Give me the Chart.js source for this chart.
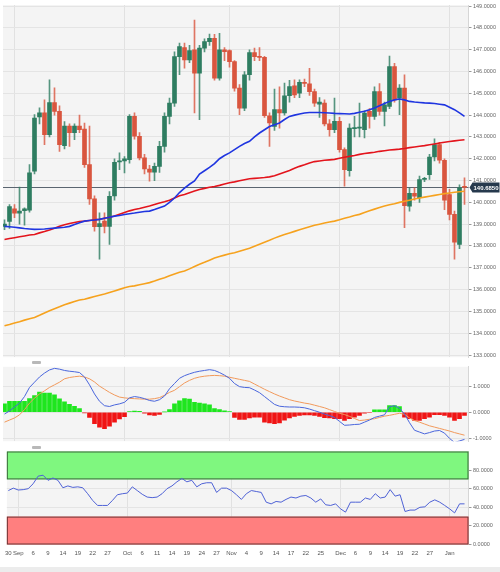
<!DOCTYPE html>
<html>
<head>
<meta charset="utf-8">
<title>EUR/JPY daily</title>
<script src="https://cdn.jsdelivr.net/npm/chart.js@4.4.1/dist/chart.umd.min.js"></script>
<style>
  html, body { margin: 0; padding: 0; background: #fff; }
  #wrap { position: relative; width: 500px; height: 572px; overflow: hidden; }
  .pane { position: absolute; left: 0; width: 500px; }
  .grip { position: absolute; left: 32px; width: 9px; height: 3px; background: #b8b8b8; border-radius: 1px; }
  #foot { position: absolute; left: 0; top: 567px; width: 500px; height: 5px; background: #ececec; }
</style>
</head>
<body>
<div id="wrap">
  <div class="pane" style="top:0;height:362px"><canvas id="priceChart"></canvas></div>
  <div class="grip" style="top:361px"></div>
  <div class="pane" style="top:362px;height:84px"><canvas id="macdChart"></canvas></div>
  <div class="grip" style="top:446px"></div>
  <div class="pane" style="top:446px;height:121px"><canvas id="rsiChart"></canvas></div>
  <div id="foot"></div>
</div>
<script>
// daily candles, Aug 30 2022 -> Jan 5 2023 (one per trading day)
const opens = [138.9, 139.13, 139.7, 139.5, 139.62, 139.64, 141.43, 143.92, 144.1, 143.1,
  144.58, 144.17, 142.6, 143.5, 143.2, 143.5, 143.36, 141.73, 140.16, 138.88,
  139.14, 138.9, 140.3, 141.85, 141.9, 141.96, 143.94, 143.03, 142.04, 141.53,
  141.38, 141.65, 142.57, 143.94, 144.55, 146.68, 147.1, 146.53, 147.0, 145.92,
  147.07, 147.37, 147.52, 145.7, 146.99, 146.96, 146.45, 145.24, 144.32, 145.85,
  146.87, 146.68, 146.65, 143.97, 143.48, 144.25, 144.1, 144.89, 145.34, 145.01,
  145.5, 145.43, 145.08, 144.5, 144.55, 143.6, 143.33, 143.71, 142.42, 141.45,
  143.38, 143.4, 143.33, 144.17, 143.94, 145.08, 144.17, 144.4, 146.23, 144.78,
  145.24, 139.83, 140.41, 140.21, 141.05, 141.27, 142.08, 142.65, 141.93, 140.36,
  139.45, 138.07, 140.7];
const highs = [139.2, 139.9, 139.9, 140.7, 139.75, 141.73, 144.02, 144.34, 144.7, 145.62,
  145.25, 144.43, 143.7, 143.6, 143.6, 144.0, 143.64, 143.5, 140.3, 139.52,
  139.52, 140.5, 142.0, 142.27, 142.1, 144.02, 144.1, 143.2, 142.2, 141.7,
  141.8, 142.8, 144.1, 144.78, 146.9, 147.3, 147.3, 147.2, 148.36, 147.2,
  147.5, 147.72, 147.7, 147.75, 147.1, 147.0, 146.5, 145.4, 146.0, 147.0,
  147.07, 147.1, 146.7, 144.1, 145.19, 145.3, 145.47, 145.6, 145.62, 145.62,
  145.65, 146.15, 145.2, 144.8, 144.7, 143.8, 144.78, 143.9, 142.5, 143.6,
  143.94, 144.55, 144.2, 144.3, 145.3, 145.45, 144.6, 146.71, 146.38, 145.4,
  145.85, 140.67, 140.67, 141.2, 141.15, 142.2, 142.91, 142.75, 142.0, 140.6,
  139.6, 140.8, 141.12];
const lows = [138.75, 138.8, 139.3, 139.0, 138.95, 139.55, 141.3, 143.6, 142.65, 143.0,
  144.0, 142.34, 142.45, 142.57, 142.87, 143.2, 141.6, 139.9, 138.68, 137.4,
  138.6, 138.07, 140.1, 141.5, 141.35, 141.8, 142.9, 141.95, 141.3, 140.97,
  141.0, 141.37, 142.3, 143.6, 144.4, 145.85, 146.15, 146.4, 144.1, 143.79,
  146.9, 147.2, 145.6, 145.6, 146.5, 146.2, 145.1, 144.02, 144.2, 145.6,
  146.5, 146.5, 143.9, 142.57, 143.3, 143.4, 144.0, 144.6, 144.8, 144.8,
  145.3, 144.9, 144.4, 143.9, 143.5, 143.03, 143.2, 142.3, 140.74, 141.2,
  143.0, 143.0, 142.95, 143.4, 143.8, 144.0, 143.5, 144.3, 144.6, 144.02,
  138.84, 139.6, 140.1, 140.0, 140.95, 141.05, 141.9, 141.8, 139.67, 139.2,
  137.39, 137.88, 139.9];
const closes = [139.0, 139.81, 139.5, 139.6, 139.7, 141.35, 143.87, 144.1, 143.1, 144.58,
  144.17, 142.65, 143.5, 143.2, 143.5, 143.33, 141.73, 140.16, 138.88, 139.03,
  138.9, 140.28, 141.84, 141.9, 142.0, 143.94, 143.03, 142.04, 141.53, 141.38,
  141.65, 142.57, 143.94, 144.55, 146.68, 147.14, 146.53, 146.96, 145.92, 147.07,
  147.37, 147.52, 145.7, 146.99, 146.91, 146.45, 145.24, 144.32, 145.85, 146.87,
  146.68, 146.65, 143.97, 143.64, 144.25, 144.1, 144.89, 145.31, 144.93, 145.5,
  145.45, 145.08, 144.55, 144.6, 143.6, 143.33, 143.71, 142.42, 141.5, 143.41,
  143.43, 143.45, 144.09, 143.94, 145.08, 144.17, 144.47, 146.23, 144.7, 145.24,
  139.85, 140.41, 140.28, 141.05, 141.1, 142.08, 142.65, 141.93, 140.1, 139.45,
  138.18, 140.67, 140.685];

// moving averages
const sma20 = [138.9, 138.88, 138.86, 138.83, 138.8, 138.78, 138.76, 138.77, 138.78, 138.8,
  138.82, 138.84, 138.86, 138.9, 138.98, 139.07, 139.14, 139.17, 139.19, 139.22,
  139.27, 139.32, 139.37, 139.4, 139.44, 139.48, 139.51, 139.55, 139.58, 139.6,
  139.67, 139.75, 139.83, 140.0, 140.2, 140.45, 140.65, 140.83, 140.98, 141.3,
  141.45, 141.6, 141.78, 142.0, 142.15, 142.27, 142.42, 142.57, 142.7, 142.8,
  143.0, 143.18, 143.33, 143.48, 143.56, 143.64, 143.8, 143.94, 144.0, 144.05,
  144.1, 144.12, 144.12, 144.12, 144.11, 144.1, 144.08, 144.07, 144.06, 144.05,
  144.08, 144.13, 144.18, 144.25, 144.33, 144.43, 144.53, 144.63, 144.7, 144.74,
  144.7, 144.63, 144.6, 144.58, 144.56, 144.55, 144.53, 144.5, 144.47, 144.36,
  144.25, 144.1, 143.94];
const sma100 = [138.3, 138.34, 138.38, 138.42, 138.46, 138.5, 138.53, 138.6, 138.66, 138.73,
  138.81, 138.9, 138.97, 139.03, 139.08, 139.12, 139.14, 139.17, 139.2, 139.22,
  139.27, 139.32, 139.37, 139.45, 139.53, 139.61, 139.67, 139.72, 139.78, 139.83,
  139.9, 139.97, 140.03, 140.1, 140.2, 140.3, 140.36, 140.44, 140.52, 140.59,
  140.64, 140.69, 140.73, 140.78, 140.84, 140.9, 140.94, 140.99, 141.04, 141.08,
  141.1, 141.12, 141.14, 141.17, 141.22, 141.3, 141.38, 141.46, 141.56, 141.65,
  141.72, 141.8, 141.87, 141.9, 141.93, 141.95, 141.97, 142.02, 142.07, 142.11,
  142.15, 142.2, 142.24, 142.27, 142.3, 142.34, 142.37, 142.4, 142.42, 142.44,
  142.47, 142.51, 142.54, 142.57, 142.6, 142.64, 142.68, 142.72, 142.76, 142.79,
  142.82, 142.85, 142.87];
const sma200 = [134.34, 134.4, 134.47, 134.53, 134.6, 134.66, 134.72, 134.82, 134.93, 135.03,
  135.12, 135.21, 135.31, 135.38, 135.45, 135.52, 135.56, 135.62, 135.68, 135.74,
  135.8, 135.87, 135.94, 136.01, 136.08, 136.14, 136.17, 136.22, 136.27, 136.32,
  136.39, 136.47, 136.54, 136.63, 136.72, 136.8, 136.85, 136.95, 137.06, 137.16,
  137.25, 137.35, 137.45, 137.52, 137.58, 137.64, 137.69, 137.76, 137.83, 137.9,
  137.99, 138.08, 138.17, 138.26, 138.36, 138.45, 138.53, 138.6, 138.67, 138.74,
  138.81, 138.88, 138.95, 139.0, 139.05, 139.1, 139.14, 139.2, 139.27, 139.33,
  139.4, 139.45, 139.53, 139.61, 139.69, 139.76, 139.83, 139.89, 139.94, 140.0,
  140.05, 140.1, 140.15, 140.2, 140.24, 140.28, 140.32, 140.36, 140.4, 140.43,
  140.46, 140.49, 140.51];

// MACD panel
const macdLine = [-0.07, 0.05, 0.2, 0.35, 0.6, 0.95, 1.15, 1.35, 1.5, 1.62,
  1.68, 1.65, 1.6, 1.57, 1.55, 1.52, 1.35, 1.05, 0.7, 0.42,
  0.25, 0.22, 0.28, 0.32, 0.38, 0.55, 0.6, 0.57, 0.52, 0.45,
  0.42, 0.48, 0.62, 0.9, 1.1, 1.3, 1.4, 1.47, 1.53, 1.57,
  1.6, 1.63, 1.6, 1.52, 1.42, 1.3, 1.1, 0.98, 0.95, 0.94,
  0.85, 0.75, 0.6, 0.45, 0.3, 0.23, 0.21, 0.2, 0.2, 0.19,
  0.17, 0.12, 0.06, 0.0, -0.07, -0.13, -0.2, -0.35, -0.5, -0.49,
  -0.47, -0.46, -0.38, -0.3, -0.2, -0.15, -0.1, 0.21, 0.25, 0.15,
  -0.07, -0.4, -0.69, -0.76, -0.83, -0.78, -0.72, -0.7, -0.8, -1.0,
  -1.16, -1.1, -1.04];
const signalLine = [-0.38, -0.3, -0.22, -0.1, 0.1, 0.35, 0.54, 0.7, 0.82, 0.95,
  1.05, 1.15, 1.28, 1.33, 1.36, 1.38, 1.35, 1.28, 1.16, 1.0,
  0.88, 0.76, 0.66, 0.58, 0.55, 0.53, 0.52, 0.51, 0.5, 0.5,
  0.52, 0.56, 0.65, 0.76, 0.84, 0.98, 1.12, 1.22, 1.3, 1.35,
  1.38, 1.4, 1.41, 1.4, 1.38, 1.34, 1.3, 1.26, 1.22, 1.18,
  1.08, 0.98, 0.88, 0.79, 0.7, 0.62, 0.55, 0.48, 0.43, 0.39,
  0.35, 0.32, 0.27, 0.22, 0.17, 0.1, 0.03, -0.04, -0.09, -0.16,
  -0.24, -0.32, -0.3, -0.27, -0.25, -0.2, -0.15, -0.12, -0.08, -0.04,
  -0.08, -0.22, -0.32, -0.38, -0.45, -0.52, -0.57, -0.62, -0.67, -0.72,
  -0.78, -0.83, -0.88];
const macdHist = [0.32, 0.42, 0.42, 0.42, 0.42, 0.52, 0.64, 0.77, 0.73, 0.73,
  0.67, 0.51, 0.4, 0.3, 0.23, 0.14, -0.03, -0.2, -0.44, -0.57,
  -0.63, -0.53, -0.38, -0.26, -0.17, 0.02, 0.04, 0.03, -0.04, -0.1,
  -0.12, -0.08, 0.01, 0.1, 0.32, 0.44, 0.52, 0.5, 0.38, 0.35,
  0.32, 0.28, 0.14, 0.1, 0.05, 0.02, -0.2, -0.28, -0.28, -0.22,
  -0.19, -0.19, -0.38, -0.41, -0.44, -0.41, -0.3, -0.22, -0.16, -0.12,
  -0.1, -0.1, -0.12, -0.16, -0.21, -0.22, -0.25, -0.25, -0.31, -0.25,
  -0.19, -0.12, -0.04, -0.02, 0.09, 0.09, 0.09, 0.25, 0.25, 0.22,
  -0.19, -0.25, -0.31, -0.31, -0.25, -0.19, -0.09, -0.09, -0.12, -0.19,
  -0.31, -0.25, -0.12];

// RSI panel
const rsi = [58, 60.6, 58.6, 59, 60, 65.3, 73.5, 74.5, 69, 71.5,
  69, 61, 63, 61.4, 62, 61, 54.6, 47.4, 42, 42,
  42, 47.4, 53.5, 54.6, 55.3, 62, 58, 54, 51, 50.4,
  51, 54.6, 60, 63, 67.4, 71, 67.4, 69, 62, 65.3,
  66.4, 66.4, 56, 60.6, 60.6, 58, 53.5, 48.5, 54.6, 58,
  57, 56, 45.5, 43.7, 46.3, 45.5, 48.5, 51, 50, 52,
  52.7, 50, 45.5, 49, 42.7, 42, 43.7, 38.3, 34.8, 45.5,
  45.5, 45.5, 50, 48.5, 54.6, 50, 51, 59, 52, 53.5,
  35.5, 37, 37, 40, 40.5, 45.5, 48, 45.5, 42, 38.3,
  34, 43.7, 43.7];

const lastPrice = 140.685;
const priceTicks = [133, 134, 135, 136, 137, 138, 139, 140, 141, 142, 143, 144, 145, 146, 147, 148, 149];
const macdTicks = [-1, 0, 1];
const rsiTicks = [0, 20, 40, 60, 80];
const rsiUpper = 70;
const rsiLower = 30;
const dateTicks = ["2022-08-30", "2022-09-01", "2022-09-06", "2022-09-09", "2022-09-14", "2022-09-19",
  "2022-09-22", "2022-09-27", "2022-10-03", "2022-10-06", "2022-10-11", "2022-10-14", "2022-10-19",
  "2022-10-24", "2022-10-27", "2022-11-01", "2022-11-04", "2022-11-09", "2022-11-14", "2022-11-17",
  "2022-11-22", "2022-11-25", "2022-12-01", "2022-12-06", "2022-12-09", "2022-12-14", "2022-12-19",
  "2022-12-22", "2022-12-27", "2023-01-02"];

const FONT = "'Liberation Sans', Arial, sans-serif";
const MONTHS = ["Jan", "Feb", "Mar", "Apr", "May", "Jun", "Jul", "Aug", "Sep", "Oct", "Nov", "Dec"];
const UP = "#2e7d61";
const DOWN = "#d9553e";
const AXIS_W = 31.5;
const X_MIN = -0.3;
const X_MAX = 92.8;

// trading days (weekdays)
const days = [];
for (let t = Date.UTC(2022, 7, 30); t <= Date.UTC(2023, 0, 5); t += 864e5) {
  const d = new Date(t);
  if (d.getUTCDay() % 6 !== 0) days.push(d);
}
const dayKeys = days.map(d => d.toISOString().slice(0, 10));

const tickIdx = dateTicks.map(k => dayKeys.indexOf(k));
const tickText = tickIdx.map(i => {
  const d = days[i];
  if (i > 0 && d.getUTCMonth() !== days[i - 1].getUTCMonth()) return MONTHS[d.getUTCMonth()];
  return String(d.getUTCDate());
});
const monthIdx = tickIdx.filter((i, n) => MONTHS.includes(tickText[n]));

const xy = arr => arr.map((v, i) => ({ x: i, y: v }));

function xScale(showLabels) {
  return {
    type: "linear",
    min: X_MIN,
    max: X_MAX,
    offset: false,
    afterBuildTicks: s => { s.ticks = (showLabels ? tickIdx : monthIdx).map(v => ({ value: v })); },
    afterFit: s => { s.height = showLabels ? 16 : 0; },
    ticks: {
      display: showLabels,
      autoSkip: false,
      maxRotation: 0,
      padding: 5,
      color: "#555",
      font: { size: 6, family: FONT },
      callback: v => tickText[tickIdx.indexOf(v)]
    },
    grid: {
      offset: false,
      drawTicks: false,
      color: c => (c.tick && monthIdx.includes(c.tick.value)) ? "#e1e1e1" : "rgba(0,0,0,0)"
    },
    border: { display: false }
  };
}

function yScale(min, max, ticks) {
  return {
    position: "right",
    min: min,
    max: max,
    afterBuildTicks: s => { s.ticks = ticks.map(v => ({ value: v })); },
    afterFit: s => { s.width = AXIS_W; },
    ticks: { padding: 1.5, color: "#666", font: { size: 5.5, family: FONT }, callback: v => v.toFixed(4) },
    grid: { color: "#e4e4e4", tickColor: "#999", tickLength: 3 },
    border: { color: "#d6d6d6" }
  };
}

// light panel background
const panelBg = {
  id: "panelBg",
  beforeDraw(chart) {
    const a = chart.chartArea, ctx = chart.ctx;
    ctx.save();
    ctx.fillStyle = "#f4f4f4";
    ctx.fillRect(a.left, a.top, a.right - a.left, a.bottom - a.top);
    ctx.restore();
  }
};

// last price line + tag on the price axis
const priceMarker = {
  id: "priceMarker",
  beforeDatasetsDraw(chart) {
    const a = chart.chartArea, ctx = chart.ctx;
    const y = Math.round(chart.scales.y.getPixelForValue(lastPrice)) + 0.5;
    ctx.save();
    ctx.strokeStyle = "#5a6570";
    ctx.lineWidth = 1;
    ctx.beginPath();
    ctx.moveTo(a.left, y);
    ctx.lineTo(a.right, y);
    ctx.stroke();
    ctx.restore();
  },
  afterDraw(chart) {
    const a = chart.chartArea, ctx = chart.ctx;
    const y = chart.scales.y.getPixelForValue(lastPrice);
    const x0 = a.right + 1, x1 = chart.width - 0.5, h = 10;
    ctx.save();
    ctx.fillStyle = "#26394d";
    ctx.beginPath();
    ctx.moveTo(x0, y);
    ctx.lineTo(x0 + 3, y - h / 2);
    ctx.lineTo(x1, y - h / 2);
    ctx.lineTo(x1, y + h / 2);
    ctx.lineTo(x0 + 3, y + h / 2);
    ctx.closePath();
    ctx.fill();
    ctx.fillStyle = "#fff";
    ctx.font = "bold 6px " + FONT;
    ctx.textAlign = "center";
    ctx.textBaseline = "middle";
    ctx.fillText(lastPrice.toFixed(4), (x0 + 3 + x1) / 2, y + 0.5);
    ctx.restore();
  }
};

// overbought / oversold zones
const rsiZones = {
  id: "rsiZones",
  beforeDatasetsDraw(chart) {
    const a = chart.chartArea, ctx = chart.ctx, s = chart.scales.y;
    const zone = (from, to, fill, edge) => {
      const yA = s.getPixelForValue(to), yB = s.getPixelForValue(from);
      ctx.fillStyle = fill;
      ctx.fillRect(a.left, yA, a.right - a.left, yB - yA);
      ctx.strokeStyle = edge;
      ctx.lineWidth = 1;
      ctx.strokeRect(a.left + 0.5, yA + 0.5, a.right - a.left - 1, yB - yA - 1);
    };
    ctx.save();
    zone(rsiUpper, s.max, "#7ff77f", "#3d6a3d");
    zone(s.min, rsiLower, "#ff7f7f", "#6e3434");
    ctx.restore();
  }
};

const common = {
  responsive: true,
  maintainAspectRatio: false,
  animation: false,
  events: [],
  plugins: { legend: { display: false }, tooltip: { enabled: false } }
};

const candleColors = closes.map((c, i) => (c >= opens[i] ? UP : DOWN));

new Chart(document.getElementById("priceChart"), {
  data: {
    datasets: [
      { type: "line", data: xy(sma20), borderColor: "#1f35e0", borderWidth: 1.6, pointRadius: 0, order: 0 },
      { type: "line", data: xy(sma100), borderColor: "#e3141c", borderWidth: 1.6, pointRadius: 0, order: 0 },
      { type: "line", data: xy(sma200), borderColor: "#f6a21e", borderWidth: 1.6, pointRadius: 0, order: 0 },
      {
        type: "bar",
        data: closes.map((c, i) => ({ x: i, y: [opens[i], c] })),
        backgroundColor: candleColors,
        barThickness: 4,
        minBarLength: 1,
        grouped: false,
        order: 1
      },
      {
        type: "bar",
        data: closes.map((c, i) => ({ x: i, y: [lows[i], highs[i]] })),
        backgroundColor: candleColors.map(c => c + "cc"),
        barThickness: 1,
        grouped: false,
        order: 2
      }
    ]
  },
  options: Object.assign({}, common, {
    layout: { padding: { left: 3, top: 5, bottom: 3, right: 0 } },
    scales: { x: xScale(false), y: yScale(132.9, 149.05, priceTicks) }
  }),
  plugins: [panelBg, priceMarker]
});

new Chart(document.getElementById("macdChart"), {
  data: {
    datasets: [
      { type: "line", data: xy(macdLine), borderColor: "#4a66dc", borderWidth: 1, pointRadius: 0, order: 0 },
      { type: "line", data: xy(signalLine), borderColor: "#f29a5c", borderWidth: 1, pointRadius: 0, order: 1 },
      {
        type: "bar",
        data: xy(macdHist),
        backgroundColor: macdHist.map(v => (v >= 0 ? "#1ee61e" : "#f01414")),
        barThickness: 4,
        order: 2
      }
    ]
  },
  options: Object.assign({}, common, {
    layout: { padding: { left: 3, top: 4, bottom: 3, right: 0 } },
    scales: { x: xScale(false), y: yScale(-1.11, 1.74, macdTicks) }
  }),
  plugins: [panelBg]
});

new Chart(document.getElementById("rsiChart"), {
  data: {
    datasets: [
      { type: "line", data: xy(rsi), borderColor: "#4f62d6", borderWidth: 1, pointRadius: 0 }
    ]
  },
  options: Object.assign({}, common, {
    layout: { padding: { left: 3, top: 5.5, bottom: 6.5, right: 0 } },
    scales: { x: xScale(true), y: yScale(0, 100, rsiTicks) }
  }),
  plugins: [panelBg, rsiZones]
});
</script>
</body>
</html>
